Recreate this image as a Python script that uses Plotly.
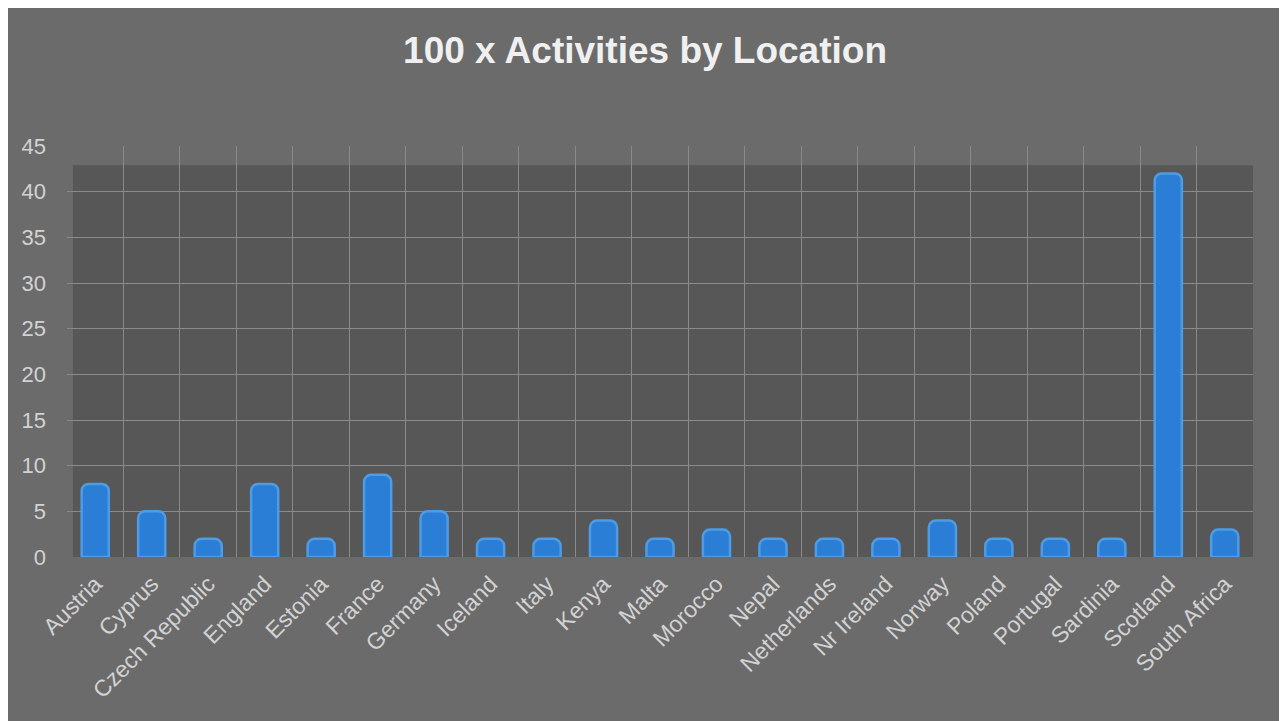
import plotly.graph_objects as go

locations = ["Austria", "Cyprus", "Czech Republic", "England", "Estonia", "France",
             "Germany", "Iceland", "Italy", "Kenya", "Malta", "Morocco", "Nepal",
             "Netherlands", "Nr Ireland", "Norway", "Poland", "Portugal", "Sardinia",
             "Scotland", "South Africa"]
activities = [8, 5, 2, 8, 2, 9, 5, 2, 2, 4, 2, 3, 2, 2, 2, 4, 2, 2, 2, 42, 3]
y_ticks = [0, 5, 10, 15, 20, 25, 30, 35, 40, 45]

fig = go.Figure()
fig.add_trace(go.Bar(
    x=locations, y=activities,
    width=0.48,
    marker=dict(color="#2a7ed6", line=dict(color="#4f9ce6", width=2.5), cornerradius=7),
    hoverinfo="x+y",
))

# darker back wall
fig.add_shape(type="rect", xref="paper", yref="y", x0=0.005, x1=1, y0=0, y1=42.9,
              fillcolor="#575757", line=dict(width=0), layer="below")

fig.update_layout(
    width=1287, height=721,
    paper_bgcolor="#6b6b6b", plot_bgcolor="#6b6b6b",
    margin=dict(l=59, r=42, t=138, b=172),
    title=dict(text="<b>100 x Activities by Location</b>", x=0.495, xanchor="center",
               y=0.942, yanchor="middle",
               font=dict(family="Liberation Sans, Arial, sans-serif", size=37, color="#f0f0f0")),
    font=dict(family="Liberation Sans, Arial, sans-serif", color="#d2d2d2"),
    showlegend=False,
)
fig.update_xaxes(
    tickson="boundaries", showgrid=True, gridcolor="#8a8a8a", gridwidth=1,
    tickangle=-45, tickfont=dict(size=23, color="#d2d2d2"),
    showline=False, zeroline=False, ticks="", ticklabelstandoff=8,
)
fig.update_yaxes(
    range=[0, 45], tickvals=y_ticks, showgrid=True, gridcolor="#8a8a8a", gridwidth=1,
    tickfont=dict(size=22, color="#d2d2d2"), zeroline=False, showline=False,
    ticklabelstandoff=20,
)
fig.write_html("out.html")
